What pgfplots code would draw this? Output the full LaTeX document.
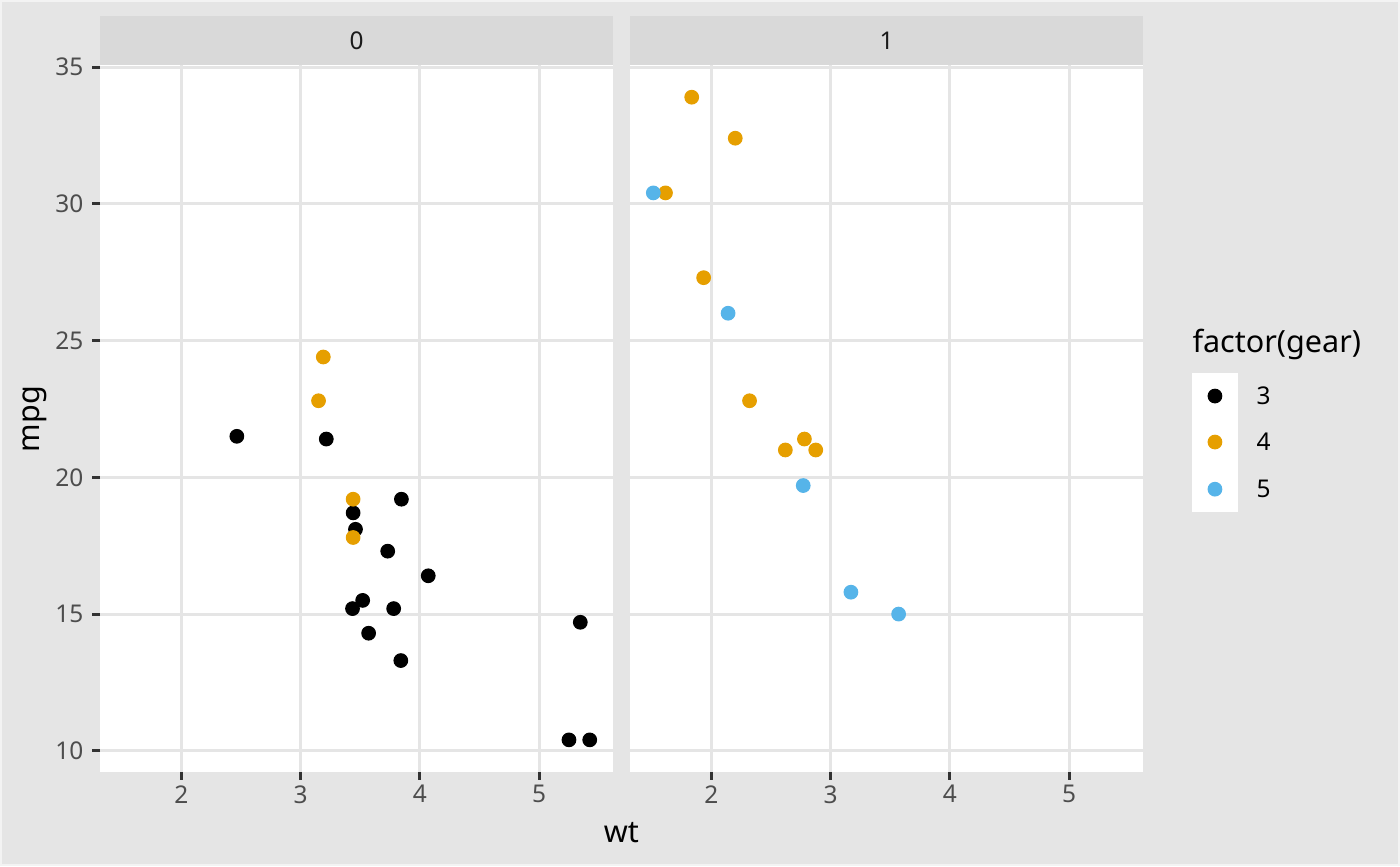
\documentclass[border=0pt]{standalone}
\usepackage{pgfplots}
\pgfplotsset{compat=1.18}
\usepackage{fontspec}
\setmainfont{Noto Sans}
\definecolor{bg}{HTML}{E5E5E5}
\definecolor{stripc}{HTML}{D9D9D9}
\definecolor{gridc}{HTML}{E5E5E5}
\definecolor{tickc}{HTML}{333333}
\definecolor{labc}{HTML}{4D4D4D}
\definecolor{stript}{HTML}{1A1A1A}
\definecolor{gthree}{HTML}{000000}
\definecolor{gfour}{HTML}{E69F00}
\definecolor{gfive}{HTML}{56B4E9}
\tikzset{tk/.style={draw=tickc, line width=1.07pt}}

\pgfplotstableread{
wt mpg
3.215 21.4
3.440 18.7
3.460 18.1
3.570 14.3
4.070 16.4
3.730 17.3
3.780 15.2
5.250 10.4
5.424 10.4
5.345 14.7
2.465 21.5
3.520 15.5
3.435 15.2
3.840 13.3
3.845 19.2
}\amzerogthree
\pgfplotstableread{
wt mpg
3.190 24.4
3.150 22.8
3.440 19.2
3.440 17.8
}\amzerogfour
\pgfplotstableread{
wt mpg
2.620 21.0
2.875 21.0
2.320 22.8
2.200 32.4
1.615 30.4
1.835 33.9
1.935 27.3
2.780 21.4
}\amonegfour
\pgfplotstableread{
wt mpg
2.140 26.0
1.513 30.4
3.170 15.8
2.770 19.7
3.570 15.0
}\amonegfive

\pgfplotsset{
  facet/.style={
    scale only axis, width=184.7pt, height=254.5pt,
    xmin=1.3175, xmax=5.6196, ymin=9.225, ymax=35.075,
    axis line style={draw=none},
    axis background/.style={fill=white},
    grid=major, major grid style={gridc, line width=1.07pt},
    xtick={2,3,4,5}, ytick={10,15,20,25,30,35},
    major tick length=0pt,
    ticklabel style={font=\fontsize{8.8}{10}\selectfont, text=labc},
    /pgf/number format/assume math mode=true,
    xtick pos=bottom, ytick pos=left,
    xticklabel style={anchor=north, inner sep=0pt, yshift=-4.6pt},
    yticklabel style={anchor=east, inner sep=0pt, xshift=-5.8pt},
    clip=false,
  },
  pts/.style={only marks, mark=*, mark size=2.45pt, color=#1, draw=#1, fill=#1, mark options={draw=#1, fill=#1}},
}

\begin{document}
\begin{tikzpicture}[x=1pt,y=1pt]
\fill[bg] (0,0) rectangle (504,311.76);
\draw[white!55!bg, line width=0.7pt] (0.35,0.35) rectangle (503.65,311.41);

% left facet (am = 0)
\begin{axis}[facet, name=left, at={(36pt,33.84pt)}, anchor=south west]
\addplot[pts=gthree] table[x=wt,y=mpg] {\amzerogthree};
\addplot[pts=gfour] table[x=wt,y=mpg] {\amzerogfour};
\pgfplotsinvokeforeach{2,3,4,5}{\draw[tk] (axis cs:#1,9.225) -- ++(0pt,-2.75pt);}
\pgfplotsinvokeforeach{10,15,20,25,30,35}{\draw[tk] (axis cs:1.3175,#1) -- ++(-2.75pt,0pt);}
\end{axis}
\fill[stripc] (left.north west) rectangle ([yshift=17.6pt]left.north east);
\node[font=\fontsize{8.8}{10}\selectfont, text=stript, inner sep=0pt]
  at ([yshift=8.8pt]left.north) {0};

% right facet (am = 1)
\begin{axis}[facet, name=right, at={(226.8pt,33.84pt)}, anchor=south west,
  yticklabels={}]
\addplot[pts=gfour] table[x=wt,y=mpg] {\amonegfour};
\addplot[pts=gfive] table[x=wt,y=mpg] {\amonegfive};
\pgfplotsinvokeforeach{2,3,4,5}{\draw[tk] (axis cs:#1,9.225) -- ++(0pt,-2.75pt);}
\end{axis}
\fill[stripc] (right.north west) rectangle ([yshift=17.6pt]right.north east);
\node[font=\fontsize{8.8}{10}\selectfont, text=stript, inner sep=0pt]
  at ([yshift=8.8pt]right.north) {1};

% axis titles
\node[font=\fontsize{11}{13}\selectfont, rotate=90, anchor=base, inner sep=0pt]
  at (14.4,160.9) {mpg};
\node[font=\fontsize{11}{13}\selectfont, anchor=base, inner sep=0pt]
  at (223.7,8.6) {wt};

% legend
\node[font=\fontsize{11}{13}\selectfont, anchor=base west, inner sep=0pt]
  at (429.1,184.7) {factor(gear)};
\begin{axis}[at={(429.1pt,127.4pt)}, anchor=south west, scale only axis,
  width=16.56pt, height=50.04pt, xmin=0, xmax=1, ymin=0, ymax=1,
  axis line style={draw=none}, ticks=none,
  axis background/.style={fill=white}, clip=false]
\addplot[pts=gthree] coordinates {(0.5,0.835)};
\addplot[pts=gfour] coordinates {(0.5,0.504)};
\addplot[pts=gfive] coordinates {(0.5,0.165)};
\node[font=\fontsize{8.8}{10}\selectfont, anchor=west, inner sep=0pt, xshift=14.8pt] at (axis cs:0.5,0.835) {3};
\node[font=\fontsize{8.8}{10}\selectfont, anchor=west, inner sep=0pt, xshift=14.8pt] at (axis cs:0.5,0.504) {4};
\node[font=\fontsize{8.8}{10}\selectfont, anchor=west, inner sep=0pt, xshift=14.8pt] at (axis cs:0.5,0.165) {5};
\end{axis}
\end{tikzpicture}
\end{document}
